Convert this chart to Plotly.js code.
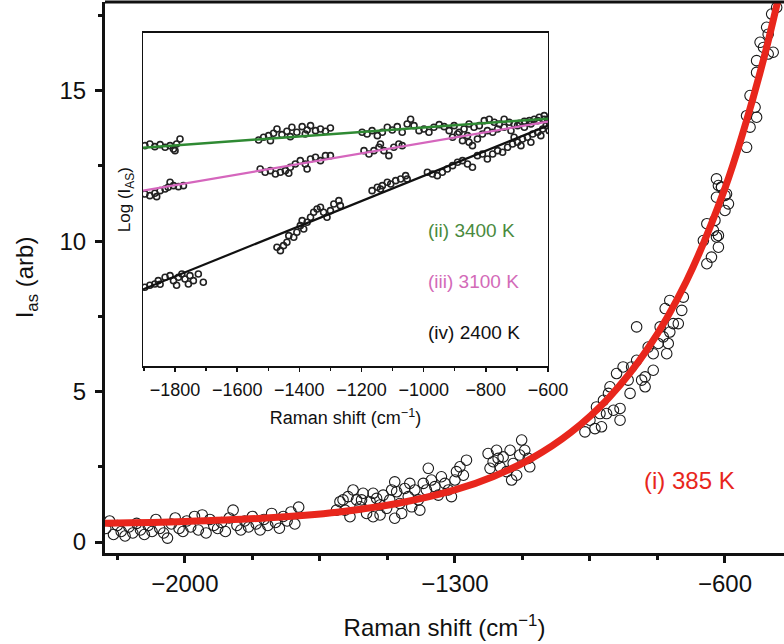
<!DOCTYPE html>
<html>
<head>
<meta charset="utf-8">
<script src="https://cdn.plot.ly/plotly-3.0.1.min.js"></script>
<style>
html,body{margin:0;padding:0;background:#fff;overflow:hidden;}
#chart{width:784px;height:644px;}
</style>
</head>
<body>
<div id="chart"></div>
<script>
// ---------- Main plot data: (i) 385 K ----------
const mainShift = [
 -2205,-2195,-2185,-2175,-2165,-2155,-2145,-2135,-2125,-2115,-2105,-2095,-2085,-2075,-2065,-2055,-2045,-2035,-2025,-2015,
 -2005,-1995,-1985,-1975,-1965,-1955,-1945,-1935,-1925,-1915,-1905,-1895,-1885,-1875,-1865,-1855,-1845,-1835,-1825,-1815,
 -1805,-1795,-1785,-1775,-1765,-1755,-1745,-1735,-1725,-1715,-1705,
 -1607,-1598,-1590,-1585,-1577,-1572,-1564,-1555,-1546,-1542,-1538,-1529,-1520,-1512,-1512,-1503,-1494,-1494,-1486,-1477,
 -1469,-1464,-1456,-1456,-1451,-1443,-1438,-1430,-1421,-1417,-1412,-1404,-1395,-1391,-1382,-1374,-1369,-1361,-1352,-1343,
 -1335,-1326,-1317,-1309,-1300,-1296,-1287,-1278,-1270,
 -1214,-1209,-1201,-1192,-1188,-1183,-1175,-1166,-1157,-1153,-1149,-1140,-1132,-1127,-1119,-1110,-1106,
 -963,-950,-937,-933,-924,-920,-915,-907,-902,-898,-889,-881,-872,-872,-864,-851,-846,-842,-829,-829,
 -816,-807,-807,-799,-786,-786,-773,-768,-760,-755,-751,-747,-743,-743,-734,-721,-712,-708,
 -656,-647,-647,-635,-630,-626,-622,-617,-617,
 -622,-609,-600,-596,-591,
 -622,-617,-609,-600,
 -544,-544,-535,-535,-522,-518,
 -518,-518,-509,-500,-488,-475,
 -492,-488,-479,-466
];
const mainIntensity = [
 0.45,0.70,0.25,0.55,0.35,0.20,0.50,0.30,0.62,0.40,0.25,0.55,0.35,0.75,0.45,0.30,0.13,0.60,0.80,0.45,
 0.35,0.70,0.50,0.85,0.40,0.90,0.30,0.75,0.55,0.45,0.65,0.35,0.80,1.06,0.55,0.40,0.70,0.50,0.85,0.60,
 0.40,0.75,0.55,0.95,0.65,0.46,0.85,0.70,1.00,0.60,1.16,
 1.06,1.34,1.40,1.06,1.51,0.84,1.73,1.40,1.17,1.40,1.62,0.95,1.34,0.84,1.62,1.45,1.23,0.90,1.56,1.12,
 1.40,1.73,2.00,0.79,1.67,1.28,0.95,1.78,1.51,1.95,1.17,1.73,1.40,1.06,1.95,1.73,2.45,2.06,1.84,1.56,
 2.17,1.95,1.73,1.51,2.06,2.34,2.50,2.22,2.72,
 2.94,2.45,2.67,3.05,2.78,2.50,2.83,2.34,3.05,2.06,2.61,2.22,2.89,3.39,3.05,2.78,2.50,
 3.66,4.05,3.77,4.49,4.27,3.83,4.71,4.27,4.94,5.16,4.38,5.60,4.44,4.05,5.82,5.38,4.94,5.82,6.04,7.15,
 5.38,5.16,5.49,6.48,6.26,5.71,6.60,7.15,6.82,7.76,6.26,6.60,6.98,8.03,7.26,7.26,7.70,8.14,
 10.02,10.58,9.25,9.47,10.36,10.69,10.14,9.80,10.19,
 11.46,11.79,11.02,11.57,11.24,
 12.07,11.85,11.80,11.52,
 14.17,13.12,14.84,13.79,14.45,14.12,
 16.00,15.61,16.61,16.44,16.22,16.28,
 17.11,16.88,17.55,17.77
];
// fitted curve
const fitShift = [-2207,-2000,-1800,-1600,-1450,-1300,-1200,-1100,-1000,-900,-800,-700,-600,-550,-500,-463];
const fitIntensity = [0.62,0.68,0.79,1.00,1.28,1.73,2.18,2.79,3.64,4.81,6.43,8.67,11.76,13.75,16.04,17.99];

// ---------- Inset data (log scale, arbitrary units) ----------
const greenShift = [
 -1897,-1881,-1865,-1848,-1832,-1816,-1805,-1800,-1795,-1784,
 -1531,-1515,-1499,-1493,-1483,-1472,-1456,-1440,-1429,-1424,-1408,-1391,-1381,-1375,-1364,-1348,-1332,-1316,-1300,
 -1198,-1182,-1166,-1149,-1133,-1117,-1101,-1085,-1069,-1053,-1042,-1031,-1015,-999,-983,-967,-950,-934,-918,-902,
 -886,-870,-854,-838,-821,-805,-789,-773,-757,-741,-725,-709,-692,-676,-660,-644,-628,-612,-601
];
const greenLog = [
 6.62,6.67,6.59,6.65,6.57,6.62,6.52,6.47,6.67,6.82,
 6.79,6.87,6.92,6.77,6.99,7.12,6.95,7.05,6.89,7.17,7.02,7.19,6.97,7.09,7.22,7.07,7.12,7.05,7.15,
 7.02,6.97,7.07,6.92,7.02,7.17,7.09,7.19,7.02,7.27,7.41,7.22,7.07,7.12,7.02,7.17,7.25,7.19,7.07,7.22,
 7.02,7.12,7.27,7.17,7.22,7.37,7.41,7.32,7.27,7.41,7.32,7.27,7.29,7.35,7.37,7.41,7.47,7.52,7.41
];
const pinkShift = [
 -1897,-1881,-1865,-1859,-1848,-1832,-1822,-1816,-1805,-1789,-1773,
 -1526,-1510,-1493,-1477,-1461,-1445,-1434,-1429,-1413,-1397,-1381,-1375,-1364,-1348,-1332,-1316,-1300,
 -1192,-1176,-1160,-1144,-1139,-1128,-1112,-1096,-1080,-1069,
 -907,-891,-875,-859,-854,-843,-827,-811,-795,-778,-762,-741,-719,-698,-676,-655,-633,-612,-596
];
const pinkLog = [
 5.17,5.12,5.19,5.09,5.27,5.32,5.37,5.52,5.42,5.39,5.42,
 5.92,5.82,5.87,5.77,5.82,5.87,5.79,5.97,6.07,6.17,6.07,5.92,6.22,6.27,6.17,6.32,6.32,
 6.47,6.37,6.47,6.57,6.67,6.47,6.32,6.57,6.67,6.62,
 6.87,6.97,6.77,6.92,6.72,6.62,6.82,6.97,7.07,7.02,7.12,7.17,7.07,7.22,7.17,7.27,7.37,7.41,7.32
];
const blackShift = [
 -1897,-1881,-1865,-1854,-1848,-1832,-1816,-1805,-1795,-1789,-1778,-1768,-1757,-1752,-1741,-1725,-1709,
 -1472,-1461,-1451,-1440,-1434,-1418,-1408,-1397,-1391,-1386,-1375,-1364,-1354,-1343,-1332,-1322,-1311,-1300,-1289,-1273,-1268,
 -1166,-1149,-1139,-1133,-1117,-1106,-1090,-1074,-1058,-1053,
 -988,-972,-956,-940,-924,-907,-891,-875,-859,-843,-827,-811,-795,-778,-762,-746,-730,-714,-709,-698,
 -687,-682,-666,-655,-649,-633,-623,-617,-606,-596
];
const blackLog = [
 2.37,2.43,2.47,2.57,2.46,2.67,2.72,2.57,2.43,2.67,2.77,2.62,2.47,2.72,2.57,2.77,2.52,
 3.57,3.47,3.62,3.72,3.92,3.87,4.02,4.22,4.37,4.12,4.32,4.47,4.62,4.72,4.77,4.62,4.47,4.67,4.87,4.97,4.82,
 5.27,5.37,5.32,5.42,5.52,5.47,5.57,5.62,5.72,5.62,
 5.82,5.77,5.72,5.82,5.92,6.02,6.12,6.17,6.07,5.97,6.32,6.37,6.22,6.37,6.47,6.42,6.57,6.67,6.87,6.72,
 6.62,6.82,6.87,6.72,6.97,7.02,6.92,7.12,7.22,7.07
];
// linear fits (end points)
const fitInsetShift = [-1903,-600];
const greenFit = [6.56,7.43];
const pinkFit = [5.27,7.34];
const blackFit = [2.31,7.22];

// ---------- Labels / ticks ----------
const mainTickVals = [-2000,-1300,-600];
const mainTickText = ['−2000','−1300','−600'];
const mainUnlabelledTicks = [-1650,-950];
const yTickVals = [0,5,10,15];
const insetTickVals = [-1800,-1600,-1400,-1200,-1000,-800,-600];
const insetTickText = ['−1800','−1600','−1400','−1200','−1000','−800','−600'];
const seriesLabels = ['(i) 385 K','(ii) 3400 K','(iii) 3100 K','(iv) 2400 K'];

const FONT = 'Liberation Sans, Arial, Helvetica, sans-serif';
const RED = '#e8261c', GREEN = '#2f8a33', PINK = '#d566bd', GREEN_T = '#4a8a3e', PINK_T = '#d36ab8';
const X_RANGE = [-2207,-447];

const traces = [
 {x: mainShift, y: mainIntensity, xaxis:'x', yaxis:'y', mode:'markers', type:'scatter',
  marker:{symbol:'circle-open', size:10.5, color:'#1a1a1a', line:{width:1.1}}},
 {x: fitShift, y: fitIntensity, xaxis:'x', yaxis:'y', mode:'lines', type:'scatter',
  line:{color:RED, width:7, shape:'spline', smoothing:1}},
 {x: [mainTickVals[0]], y: [0], xaxis:'x3', yaxis:'y', mode:'markers', type:'scatter',
  marker:{opacity:0, size:1}},
 {x: greenShift, y: greenLog, xaxis:'x2', yaxis:'y2', mode:'markers', type:'scatter',
  marker:{symbol:'circle-open', size:6, color:'#222', line:{width:1.6}}},
 {x: pinkShift, y: pinkLog, xaxis:'x2', yaxis:'y2', mode:'markers', type:'scatter',
  marker:{symbol:'circle-open', size:6, color:'#222', line:{width:1.6}}},
 {x: blackShift, y: blackLog, xaxis:'x2', yaxis:'y2', mode:'markers', type:'scatter',
  marker:{symbol:'circle-open', size:6, color:'#222', line:{width:1.6}}},
 {x: fitInsetShift, y: greenFit, xaxis:'x2', yaxis:'y2', mode:'lines', type:'scatter', line:{color:GREEN, width:2.5}},
 {x: fitInsetShift, y: pinkFit, xaxis:'x2', yaxis:'y2', mode:'lines', type:'scatter', line:{color:PINK, width:2.2}},
 {x: fitInsetShift, y: blackFit, xaxis:'x2', yaxis:'y2', mode:'lines', type:'scatter', line:{color:'#111', width:2.2}}
];

const layout = {
 width:784, height:644,
 margin:{l:105, r:0, t:2, b:91},
 paper_bgcolor:'#fff', plot_bgcolor:'rgba(0,0,0,0)',
 showlegend:false, hovermode:false,
 font:{family:FONT, color:'#111', size:24},
 xaxis:{
  domain:[0,1], range:X_RANGE, anchor:'y',
  tickmode:'array', tickvals:mainTickVals, ticktext:mainTickText,
  ticks:'outside', ticklen:7, tickwidth:3, tickcolor:'#111',
  minor:{tickmode:'linear', tick0:-2000, dtick:175, ticks:'outside', ticklen:4, tickwidth:3, tickcolor:'#111'},
  showline:true, linewidth:3, linecolor:'#111', showgrid:false, zeroline:false,
  tickfont:{size:24, family:FONT, color:'#111'},
  title:{text:'Raman shift (cm<sup>−1</sup>)', font:{size:24, family:FONT, color:'#111'}, standoff:24}
 },
 xaxis3:{
  overlaying:'x', anchor:'y', side:'bottom', range:X_RANGE,
  tickmode:'array', tickvals:mainUnlabelledTicks, showticklabels:false,
  ticks:'outside', ticklen:7, tickwidth:3, tickcolor:'#111',
  showline:false, showgrid:false, zeroline:false
 },
 yaxis:{
  domain:[0,1], range:[-0.365,17.95], anchor:'x',
  tickmode:'array', tickvals:yTickVals,
  ticks:'outside', ticklen:7, tickwidth:3, tickcolor:'#111',
  minor:{tickmode:'linear', tick0:0, dtick:2.5, ticks:'outside', ticklen:4, tickwidth:3, tickcolor:'#111'},
  showline:true, linewidth:3, linecolor:'#111', showgrid:false, zeroline:false,
  tickfont:{size:24, family:FONT, color:'#111'}, ticklabelstandoff:4,
  title:{text:'I<sub>as</sub> (arb)', font:{size:24, family:FONT, color:'#111'}, standoff:20}
 },
 xaxis2:{
  domain:[0.056,0.6524], range:[-1903,-600], anchor:'y2',
  tickmode:'array', tickvals:insetTickVals, ticktext:insetTickText,
  ticks:'outside', ticklen:4, tickwidth:1.5, tickcolor:'#111',
  minor:{tickmode:'linear', tick0:-1800, dtick:100, ticks:'outside', ticklen:3, tickwidth:1.5, tickcolor:'#111'},
  showline:true, linewidth:1.5, linecolor:'#111', mirror:true, showgrid:false, zeroline:false,
  tickfont:{size:18, family:FONT, color:'#111'}, ticklabelstandoff:3,
  title:{text:'Raman shift (cm<sup>−1</sup>)', font:{size:18, family:FONT, color:'#111'}, standoff:12}
 },
 yaxis2:{
  domain:[0.3388,0.9438], range:[0,10], anchor:'x2',
  showticklabels:false, ticks:'',
  showline:true, linewidth:1.5, linecolor:'#111', mirror:true, showgrid:false, zeroline:false,
  title:{text:'Log (I<sub>AS</sub>)', font:{size:17, family:FONT, color:'#111'}, standoff:6}
 },
 shapes:[
  {type:'line', xref:'paper', yref:'paper', x0:0, x1:1, y0:1, y1:1, line:{color:'#111', width:3}}
 ],
 annotations:[
  {x:-815, y:2.06, xref:'x', yref:'y', text:seriesLabels[0], showarrow:false, xanchor:'left', yanchor:'middle',
   font:{size:24, family:FONT, color:RED}},
  {x:-994, y:4.07, xref:'x2', yref:'y2', text:seriesLabels[1], showarrow:false, xanchor:'left', yanchor:'middle',
   font:{size:19, family:FONT, color:GREEN_T}},
  {x:-994, y:2.54, xref:'x2', yref:'y2', text:seriesLabels[2], showarrow:false, xanchor:'left', yanchor:'middle',
   font:{size:19, family:FONT, color:PINK_T}},
  {x:-994, y:1.02, xref:'x2', yref:'y2', text:seriesLabels[3], showarrow:false, xanchor:'left', yanchor:'middle',
   font:{size:19, family:FONT, color:'#111'}}
 ]
};

Plotly.newPlot('chart', traces, layout, {displayModeBar:false, staticPlot:true});
</script>
</body>
</html>
